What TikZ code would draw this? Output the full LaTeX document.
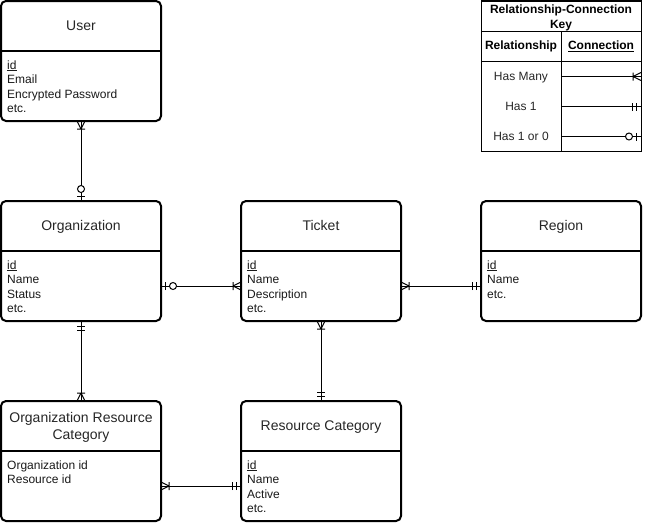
\documentclass[tikz,border=0pt]{standalone}
\usepackage{fontspec}
\setmainfont{Liberation Sans}
\usetikzlibrary{decorations.markings}

% ER end markers, drawn in the local frame of the connector (x runs along the line)
\newcommand\ercrow{\draw[mkline] (8,0) -- (0,4) (8,0) -- (0,-4) (8,4) -- (8,-4);}
\newcommand\erbars{\draw[mkline] (5,4) -- (5,-4) (9,4) -- (9,-4);}
\newcommand\erzeroone{\draw[mkline] (4.5,4) -- (4.5,-4); \draw[mkline,fill=white] (12,0) circle[radius=3.5];}

\tikzset{
  x=1pt, y=-1pt,
  entity/.style={draw, line width=2pt, rounded corners=5pt, minimum width=160pt,
    minimum height=120pt, inner sep=0pt, outer sep=0pt},
  divider/.style={line width=2pt},
  keyrule/.style={line width=1pt},
  etitle/.style={anchor=base, inner sep=0pt, text=black!85, font=\fontsize{14}{17}\selectfont},
  ebody/.style={anchor=base west, inner sep=0pt, text=black!90, font=\fontsize{12}{14}\selectfont},
  keybox/.style={draw, line width=1pt, minimum width=160pt, minimum height=150pt,
    inner sep=0pt, outer sep=0pt},
  keyhead/.style={anchor=base, inner sep=0pt, font=\fontsize{12}{14}\selectfont\bfseries},
  keytext/.style={anchor=base, inner sep=0pt, text=black!85, font=\fontsize{12}{14}\selectfont},
  conn/.style={line width=1pt},
  mkline/.style={line width=1pt},
  manystart/.style={postaction={decorate,decoration={markings,
    mark=at position 0 with {\ercrow}}}},
  manyend/.style={postaction={decorate,decoration={markings,
    mark=at position 0.99999 with {\begin{scope}[xscale=-1]\ercrow\end{scope}}}}},
  onestart/.style={postaction={decorate,decoration={markings,
    mark=at position 0 with {\erbars}}}},
  oneend/.style={postaction={decorate,decoration={markings,
    mark=at position 0.99999 with {\begin{scope}[xscale=-1]\erbars\end{scope}}}}},
  zerostart/.style={postaction={decorate,decoration={markings,
    mark=at position 0 with {\erzeroone}}}},
  zeroend/.style={postaction={decorate,decoration={markings,
    mark=at position 0.99999 with {\begin{scope}[xscale=-1]\erzeroone\end{scope}}}}},
}

% entity box: name, centre x, centre y, title baseline, title
\newcommand\erentity[5]{%
  \node[entity] (#1) at (#2,#3) {};
  \draw[divider] ([yshift=-50pt]#1.north west) -- ([yshift=-50pt]#1.north east);
  \node[etitle] (#1-title) at (#2,#4) {#5};
}
% entity attributes: name, left x, first baseline, list of lines
\newcommand\erbody[4]{%
  \foreach \t [count=\i] in {#4} {
    \node[ebody] (#1-\i) at (#2,{#3+14.5*(\i-1)}) {\t};
  }
}

\begin{document}
\begin{tikzpicture}
\useasboundingbox (0,0) rectangle (650,522);

% entities
\erentity{user}{81}{61}{30.5}{User}
\erbody{user}{7}{69}{\underline{id},Email,Encrypted Password,etc.}

\erentity{org}{81}{261}{230.5}{Organization}
\erbody{org}{7}{269}{\underline{id},Name,Status,etc.}

\erentity{ticket}{321}{261}{230.5}{Ticket}
\erbody{ticket}{247}{269}{\underline{id},Name,Description,etc.}

\erentity{region}{561}{261}{230.5}{Region}
\erbody{region}{487}{269}{\underline{id},Name,etc.}

\node[entity] (orc) at (81,461) {};
\draw[divider] ([yshift=-50pt]orc.north west) -- ([yshift=-50pt]orc.north east);
\node[etitle] (orc-title1) at (81,422.5) {Organization Resource};
\node[etitle] (orc-title2) at (81,439.5) {Category};
\erbody{orc}{7}{469}{Organization id,Resource id}

\erentity{rc}{321}{461}{430.5}{Resource Category}
\erbody{rc}{247}{469}{\underline{id},Name,Active,etc.}

% relationships
\draw[conn, manystart, zeroend] (user.south) -- (org.north);
\draw[conn, zerostart, manyend] ([yshift=-25pt]org.east) -- ([yshift=-25pt]ticket.west);
\draw[conn, manystart, oneend] ([yshift=-25pt]ticket.east) -- ([yshift=-25pt]region.west);
\draw[conn, onestart, manyend] (org.south) -- (orc.north);
\draw[conn, manystart, oneend] (ticket.south) -- (rc.north);
\draw[conn, manystart, oneend] ([yshift=-25pt]orc.east) -- ([yshift=-25pt]rc.west);

% key table
\node[keybox] (key) at (561,76) {};
\draw[keyrule] ([yshift=-30pt]key.north west) -- ([yshift=-30pt]key.north east);
\draw[keyrule] ([yshift=-60pt]key.north west) -- ([yshift=-60pt]key.north east);
\draw[keyrule] ([yshift=-30pt]key.north) -- (key.south);
\node[keyhead] (key-title1) at (561,13.5) {Relationship-Connection};
\node[keyhead] (key-title2) at (561,28.5) {Key};
\node[keyhead] (key-rel) at (521,49.5) {Relationship};
\node[keyhead] (key-con) at (601,49.5) {\underline{Connection}};
\node[keytext] (key-many) at (521,80.5) {Has Many};
\node[keytext] (key-one) at (521,110.5) {Has 1};
\node[keytext] (key-zero) at (521,140.5) {Has 1 or 0};
\coordinate (kmany) at (561,76.5);
\coordinate (kone) at (561,106.5);
\coordinate (kzero) at (561,136.5);
\draw[conn, manyend] (kmany) -- (kmany -| key.east);
\draw[conn, oneend] (kone) -- (kone -| key.east);
\draw[conn, zeroend] (kzero) -- (kzero -| key.east);
\end{tikzpicture}
\end{document}
